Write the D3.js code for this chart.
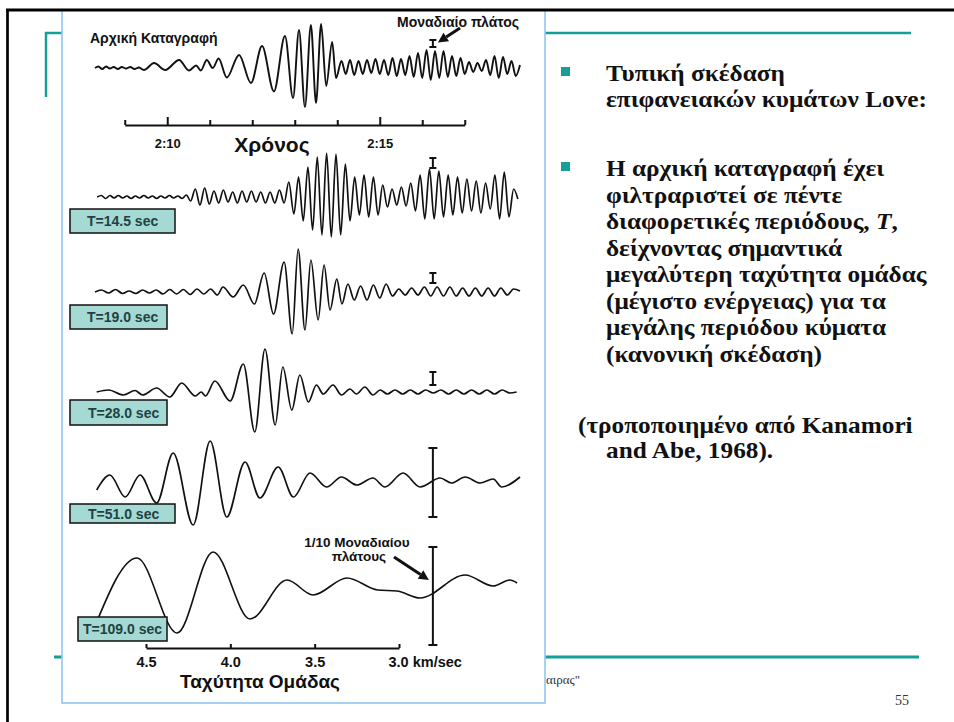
<!DOCTYPE html>
<html lang="el">
<head>
<meta charset="UTF-8">
<title>Σκέδαση κυμάτων Love</title>
<script src="https://cdn.jsdelivr.net/npm/d3@7"></script>
<style>
    body { margin: 0; background: #fff; }
    svg { display: block; }
</style>
</head>
<body>
<div id="chart"></div>
<script>
    // time in minutes after 2:00, amplitude in trace units (up = positive)
    const recordTrace = [[8.30,0],[8.38,1.5],[8.47,-1],[8.56,1.5],[8.65,-0.5],[8.74,1],[8.84,-1],[8.93,1],[9.03,-0.5],[9.13,1],[9.23,-1],[9.33,0.5],[9.45,-2],[9.69,5],[9.95,-2],[10.28,8],[10.51,-2.5],[10.68,2.5],[10.79,-2.5],[10.93,8],[11.07,0],[11.21,9.5],[11.40,-9.5],[11.69,13],[11.97,-15],[12.23,22],[12.51,-23.5],[12.77,32],[12.96,-30],[13.10,38],[13.24,-39],[13.38,43],[13.50,-35],[13.62,44],[13.74,-18],[13.88,26],[13.97,-10],
        [14.1,7],[14.2,-6],[14.3,8],[14.4,-7],[14.5,7],[14.6,-6],[14.7,8],[14.8,-5],[14.9,9],[15.0,-6],[15.1,8],[15.2,-7],[15.3,10],[15.4,-8],[15.5,9],[15.6,-7],[15.7,12],[15.8,-9],[15.9,15],[16.0,-10],[16.1,18],[16.2,-12],[16.3,17],[16.4,-10],[16.5,17],[16.6,-9],[16.7,12],[16.8,-8],[16.9,10],[17.0,-6],[17.1,6],[17.2,-4],[17.3,5],[17.4,-3],[17.5,8],[17.6,-7],[17.7,12],[17.8,-10],[17.9,11],[18.0,-6],[18.1,7],[18.2,-8],[18.3,3]];

    const trace145 = [[8.35,0],[8.45,1.5],[8.55,-1.5],[8.65,1.5],[8.75,-1],[8.85,1.5],[8.95,-1],[9.05,1],[9.15,-1.5],[9.25,1],[9.35,-1],[9.45,1.5],[9.55,-1],[9.65,1],[9.75,-1.5],[9.85,1],[9.95,-1],[10.05,1.5],[10.15,-1],[10.25,1],[10.35,-1.5],[10.45,2],[10.55,-4],[10.66,8],[10.77,-8],[10.88,9],[10.99,-7],[11.10,6],[11.21,-6],[11.32,7],[11.43,-5],[11.54,5],[11.65,-6],[11.76,6],[11.87,-5],[11.98,6],[12.09,-5],[12.20,5],[12.31,-6],[12.42,5],[12.53,-6],[12.64,7],[12.75,-6],[12.86,15],[12.98,-17],[13.09,20],[13.20,-24],[13.31,30],[13.42,-33],[13.53,40],[13.64,-38],[13.75,44],[13.86,-40],[13.97,43],[14.08,-38],[14.19,33],[14.30,-24],[14.41,20],[14.52,-18],[14.63,22],[14.74,-20],[14.85,20],[14.96,-18],[15.07,12],[15.18,-10],[15.29,8],[15.40,-8],[15.51,10],[15.62,-9],[15.73,14],[15.84,-14],[15.95,22],[16.06,-22],[16.17,28],[16.28,-22],[16.39,26],[16.50,-20],[16.61,22],[16.72,-18],[16.83,20],[16.94,-16],[17.05,18],[17.16,-14],[17.27,16],[17.38,-16],[17.49,14],[17.60,-12],[17.71,22],[17.82,-22],[17.93,25],[18.04,-20],[18.15,8],[18.25,-2]];

    const trace190 = [[8.30,0],[8.45,2],[8.62,-1],[8.78,2.5],[8.95,-1.5],[9.10,1],[9.26,-1.5],[9.42,2],[9.58,-1],[9.74,2],[9.90,-2],[10.06,2.5],[10.22,-2],[10.38,2.5],[10.54,-2.5],[10.70,3],[10.86,-2],[11.02,3],[11.18,-3],[11.31,5],[11.55,-5],[11.79,7],[12.05,-12],[12.28,19],[12.50,-22],[12.75,30],[12.94,-42],[13.08,43],[13.24,-38],[13.38,32],[13.55,-28],[13.69,27],[13.83,-18],[13.99,13],[14.11,-12],[14.25,8],[14.40,-8],[14.55,6],[14.70,-8],[14.85,7],[15.00,-6],[15.15,8],[15.30,-4],[15.45,3],[15.60,-3],[15.75,4],[15.90,-3],[16.05,5],[16.20,-4],[16.35,5],[16.50,-4],[16.65,5],[16.80,-4],[16.95,4],[17.10,-4],[17.25,4],[17.40,-4],[17.55,4],[17.70,-4],[17.85,4],[18.00,-3],[18.15,3],[18.30,1]];

    const trace280 = [[8.34,0],[8.62,2],[8.97,-3],[9.24,1.5],[9.42,-3],[9.75,4],[10.06,-5],[10.34,9],[10.66,-4],[10.80,0],[10.90,-4],[11.12,11],[11.48,-9],[11.79,28],[12.06,-40],[12.30,43],[12.54,-33],[12.72,25],[12.93,-18],[13.12,17],[13.32,-10],[13.51,7],[13.67,-2],[13.90,7],[14.10,-3],[14.30,3],[14.45,-2],[14.65,5],[14.84,-3],[15.01,2],[15.18,-2],[15.36,2],[15.54,-2],[15.72,2],[15.90,-2],[16.08,2],[16.26,-1],[16.44,2],[16.62,-2],[16.80,2],[16.98,-2],[17.16,2],[17.34,-2],[17.52,2],[17.70,-2],[17.88,2],[18.06,-1],[18.22,0]];

    const trace510 = [[8.34,-10],[8.65,5],[9.01,-17],[9.36,5],[9.75,-23],[10.14,27],[10.61,-45],[11.01,39],[11.40,-37],[11.83,18],[12.18,-18],[12.61,13],[12.97,-17],[13.36,7],[13.75,-7],[14.10,3],[14.46,-5],[14.84,2],[15.12,-7],[15.55,7],[15.95,-7],[16.42,2],[16.69,-3],[17.01,3],[17.36,-3],[17.67,1],[17.87,-7],[18.30,3]];

    const trace1090 = [[8.30,-36],[9.29,32],[10.23,-43],[11.08,38],[11.95,-29],[12.82,10],[13.43,-5],[14.23,12],[14.95,0],[15.40,-1],[15.95,-8],[17.01,15],[17.67,4],[18.06,10],[18.23,7]];

    const traceLabels = ["T=14.5 sec", "T=19.0 sec", "T=28.0 sec", "T=51.0 sec", "T=109.0 sec"];

    // amplitude scale bars ("I"), same time for all traces
    const unitBarTime = 16.25;
    const unitBarCenter = [24.5, 34, 14, 13.5, -2.5, -6];
    const unitBarSize = [7, 10, 10, 13, 69, 98];

    const timeTicks = [9, 10, 11, 12, 13, 14, 15, 16, 17];
    const timeMajor = [10, 15];
    const timeMajorLabels = ["2:10", "2:15"];

    const velocityTicks = [4.5, 4.0, 3.5, 3.0];
    const velocityLabels = ["4.5", "4.0", "3.5", "3.0 km/sec"];

    // ---- layout ----
    const W = 954, H = 722;
    const sans = "'Liberation Sans', Arial, sans-serif";
    const serif = "'Liberation Serif', 'Times New Roman', serif";
    const teal = "#179e99";

    const baselines = [68, 197, 292, 392, 480, 590];
    const strokeW = [1.9, 1.7, 1.7, 1.7, 1.7, 1.6];
    const labelBoxes = [
        {x: 70, y: 209, w: 105, h: 24, tx: 17},
        {x: 70, y: 305, w: 97, h: 24, tx: 17},
        {x: 70, y: 400, w: 97, h: 25, tx: 18},
        {x: 70, y: 504, w: 105, h: 19, tx: 18},
        {x: 78, y: 617, w: 89, h: 24, tx: 5}
    ];

    let svg = d3.select("#chart")
        .append("svg")
        .attr("width", W)
        .attr("height", H)
        .style("background-color", "#fff");

    // slide decoration behind the picture
    svg.append("path")
        .attr("d", "M46,97 V33 H911")
        .attr("fill", "none").attr("stroke", teal).attr("stroke-width", 2.5);
    svg.append("path")
        .attr("d", "M54,657 H919")
        .attr("fill", "none").attr("stroke", teal).attr("stroke-width", 3);
    svg.append("text")
        .attr("x", 546).attr("y", 684)
        .attr("font-family", serif).attr("font-size", 13).attr("fill", "#333")
        .text("αιρας\"");
    svg.append("text")
        .attr("x", 895).attr("y", 705)
        .attr("font-family", serif).attr("font-size", 14).attr("fill", "#333")
        .text("55");

    // picture frame
    svg.append("rect")
        .attr("x", 62).attr("y", 10).attr("width", 483).attr("height", 693)
        .attr("fill", "#fff").attr("stroke", "#8fc6f6").attr("stroke-width", 1.6);

    let g = svg.append("g").classed("figure", true);

    const x = d3.scaleLinear().domain([8.3, 18.3]).range([95, 520]);

    const allTraces = [recordTrace, trace145, trace190, trace280, trace510, trace1090];
    const yScales = baselines.map(b => d3.scaleLinear().domain([-50, 50]).range([b + 50, b - 50]));

    allTraces.forEach((data, i) => {
        const y = yScales[i];
        const line = d3.line()
            .x(d => x(d[0]))
            .y(d => y(d[1]))
            .curve(d3.curveMonotoneX);
        g.append("path")
            .datum(data)
            .attr("d", line)
            .attr("fill", "none")
            .attr("stroke", "#111")
            .attr("stroke-width", strokeW[i])
            .attr("stroke-linejoin", "round");
    });

    // unit amplitude bars
    const bx = x(unitBarTime);
    unitBarSize.forEach((s, i) => {
        const y = yScales[i];
        const top = y(unitBarCenter[i] + s / 2), bot = y(unitBarCenter[i] - s / 2);
        const cap = s > 20 ? 4.5 : 3.5;
        const bar = g.append("g").attr("stroke", "#111").attr("stroke-width", 2);
        bar.append("line").attr("x1", bx).attr("x2", bx).attr("y1", top).attr("y2", bot);
        bar.append("line").attr("x1", bx - cap).attr("x2", bx + cap).attr("y1", top).attr("y2", top);
        bar.append("line").attr("x1", bx - cap).attr("x2", bx + cap).attr("y1", bot).attr("y2", bot);
    });

    // period labels
    const boxes = g.selectAll(".period")
        .data(traceLabels)
        .join("g")
        .classed("period", true);
    boxes.append("rect")
        .attr("x", (d, i) => labelBoxes[i].x)
        .attr("y", (d, i) => labelBoxes[i].y)
        .attr("width", (d, i) => labelBoxes[i].w)
        .attr("height", (d, i) => labelBoxes[i].h)
        .attr("fill", "#a5d9d3")
        .attr("stroke", "#111")
        .attr("stroke-width", 1.5);
    boxes.append("text")
        .attr("x", (d, i) => labelBoxes[i].x + labelBoxes[i].tx)
        .attr("y", (d, i) => labelBoxes[i].y + labelBoxes[i].h / 2 + 5)
        .attr("font-family", sans)
        .attr("font-weight", "bold")
        .attr("font-size", 14)
        .attr("fill", "#1f4242")
        .text(d => d);

    // time axis
    const timeAxisScale = x.copy()
        .domain([timeTicks[0], timeTicks[timeTicks.length - 1]])
        .range([x(timeTicks[0]), x(timeTicks[timeTicks.length - 1])]);
    const gTime = g.append("g")
        .attr("transform", "translate(0, 125)")
        .call(d3.axisBottom(timeAxisScale)
            .tickValues(timeTicks)
            .tickSizeInner(-4)
            .tickSizeOuter(0)
            .tickPadding(14)
            .tickFormat(d => {
                const k = timeMajor.indexOf(d);
                return k >= 0 ? timeMajorLabels[k] : "";
            }));
    gTime.select(".domain").attr("stroke", "#111").attr("stroke-width", 2);
    gTime.selectAll(".tick line")
        .attr("stroke", "#111").attr("stroke-width", 2)
        .attr("y2", d => timeMajor.includes(d) ? -8 : -5);
    gTime.selectAll(".tick text")
        .attr("font-family", sans).attr("font-weight", "bold")
        .attr("font-size", 13).attr("fill", "#111");

    g.append("text")
        .attr("x", 272).attr("y", 152)
        .attr("text-anchor", "middle")
        .attr("font-family", sans).attr("font-weight", "bold").attr("font-size", 21)
        .attr("fill", "#111")
        .text("Χρόνος");

    // group velocity axis
    const vel = d3.scaleLinear().domain([4.5, 3.0]).range([146, 399]);
    const gVel = g.append("g")
        .attr("transform", "translate(0, 648)")
        .call(d3.axisBottom(vel)
            .tickValues(velocityTicks)
            .tickSizeInner(-4)
            .tickSizeOuter(0)
            .tickPadding(9)
            .tickFormat((d, i) => velocityLabels[i]));
    gVel.select(".domain").attr("stroke", "#111").attr("stroke-width", 2);
    gVel.selectAll(".tick line").attr("stroke", "#111").attr("stroke-width", 2);
    gVel.selectAll(".tick text")
        .attr("font-family", sans).attr("font-weight", "bold")
        .attr("font-size", 14.5).attr("fill", "#111")
        .filter((d, i) => i === velocityTicks.length - 1)
        .attr("text-anchor", "start")
        .attr("x", -11);

    g.append("text")
        .attr("x", 260).attr("y", 688)
        .attr("text-anchor", "middle")
        .attr("font-family", sans).attr("font-weight", "bold").attr("font-size", 19)
        .attr("fill", "#111")
        .text("Ταχύτητα Ομάδας");

    // annotations
    function arrow(x1, y1, x2, y2) {
        const a = Math.atan2(y2 - y1, x2 - x1), len = 10, hw = 5;
        const bxh = x2 - len * Math.cos(a), byh = y2 - len * Math.sin(a);
        g.append("line")
            .attr("x1", x1).attr("y1", y1).attr("x2", bxh).attr("y2", byh)
            .attr("stroke", "#111").attr("stroke-width", 3);
        g.append("path")
            .attr("d", `M${x2},${y2} L${bxh + hw * Math.sin(a)},${byh - hw * Math.cos(a)} L${bxh - hw * Math.sin(a)},${byh + hw * Math.cos(a)} Z`)
            .attr("fill", "#111");
    }

    g.append("text")
        .attr("x", 90).attr("y", 43)
        .attr("font-family", sans).attr("font-weight", "bold").attr("font-size", 14)
        .attr("fill", "#111")
        .text("Αρχική Καταγραφή");
    g.append("text")
        .attr("x", 397).attr("y", 27)
        .attr("font-family", sans).attr("font-weight", "bold").attr("font-size", 14)
        .attr("fill", "#111")
        .text("Μοναδιαίο πλάτος");
    arrow(460, 28, bx + 5, yScales[0](unitBarCenter[0] + 1));

    g.append("text")
        .attr("x", 357).attr("y", 547)
        .attr("text-anchor", "middle")
        .attr("font-family", sans).attr("font-weight", "bold").attr("font-size", 13.5)
        .attr("fill", "#111")
        .text("1/10 Μοναδιαίου");
    g.append("text")
        .attr("x", 359).attr("y", 561)
        .attr("text-anchor", "middle")
        .attr("font-family", sans).attr("font-weight", "bold").attr("font-size", 13.5)
        .attr("fill", "#111")
        .text("πλάτους");
    arrow(394, 557, bx - 4, yScales[5](10));

    // slide text on the right (the original face is wider, so stretch a little)
    const txt = svg.append("g")
        .attr("font-family", serif)
        .attr("font-weight", "bold")
        .attr("font-size", 23)
        .attr("fill", "#111");

    const lines = [
        {x: 606, y: 81, t: "Τυπική σκέδαση", bullet: true},
        {x: 606, y: 107, t: "επιφανειακών κυμάτων Love:"},
        {x: 606, y: 176, t: "Η αρχική καταγραφή έχει", bullet: true},
        {x: 606, y: 202.5, t: "φιλτραριστεί σε πέντε"},
        {x: 606, y: 229, t: "διαφορετικές περιόδους, ", italic: "T", tail: ","},
        {x: 606, y: 255.5, t: "δείχνοντας σημαντικά"},
        {x: 606, y: 282, t: "μεγαλύτερη ταχύτητα ομάδας"},
        {x: 606, y: 308.5, t: "(μέγιστο ενέργειας) για τα"},
        {x: 606, y: 335, t: "μεγάλης περιόδου κύματα"},
        {x: 606, y: 361.5, t: "(κανονική σκέδαση)"},
        {x: 578, y: 433, t: "(τροποποιημένο από Kanamori"},
        {x: 606, y: 458, t: "and Abe, 1968)."}
    ];
    lines.forEach(l => {
        const t = txt.append("text")
            .attr("transform", `translate(${l.x},${l.y}) scale(1.1,1)`);
        t.append("tspan").text(l.t);
        if (l.italic) {
            t.append("tspan").attr("font-style", "italic").text(l.italic);
            t.append("tspan").text(l.tail);
        }
        if (l.bullet) {
            txt.append("rect")
                .attr("x", 561).attr("y", l.y - 14)
                .attr("width", 9).attr("height", 9)
                .attr("fill", teal);
        }
    });

    // window frame on top
    svg.append("line").attr("x1", 6).attr("x2", W).attr("y1", 10).attr("y2", 10)
        .attr("stroke", "#000").attr("stroke-width", 3);
    svg.append("line").attr("x1", 7.5).attr("x2", 7.5).attr("y1", 10).attr("y2", H)
        .attr("stroke", "#000").attr("stroke-width", 2.7);
</script>
</body>
</html>
